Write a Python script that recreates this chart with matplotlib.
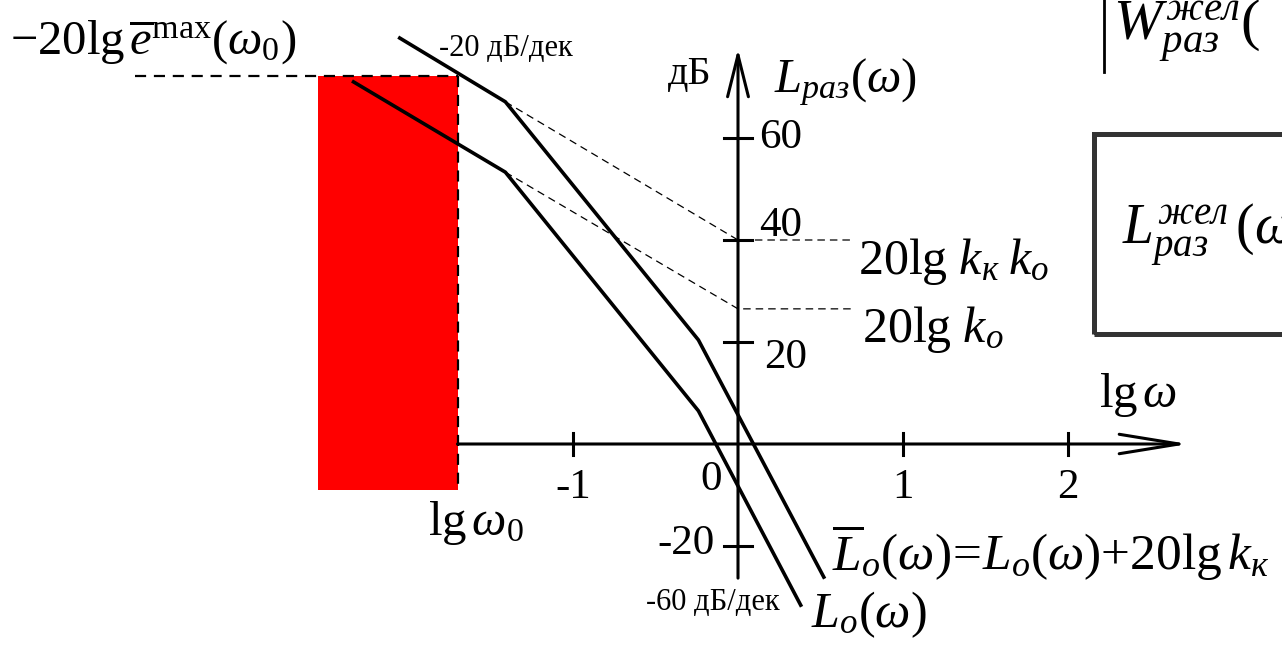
import matplotlib
matplotlib.use('Agg')
import matplotlib.pyplot as plt
from matplotlib.patches import Rectangle

plt.rcParams['font.family'] = ['Liberation Serif', 'DejaVu Serif']
plt.rcParams['mathtext.fontset'] = 'custom'
plt.rcParams['mathtext.rm'] = 'Liberation Serif'
plt.rcParams['mathtext.it'] = 'Liberation Serif:italic'
plt.rcParams['mathtext.bf'] = 'Liberation Serif:bold'

# Asymptotic LAFC vertices (lg w, dB)
lgw_bar = [-2.05, -1.41, -0.24, 0.52]     # L_o(w) + 20lg k_k
L_bar = [79.6, 67.1, 20.4, -26.1]
lgw_o = [-2.33, -1.41, -0.24, 0.38]       # L_o(w)
L_o = [71.0, 53.3, 6.5, -31.6]

# levels at lg w = 0
lvl_kk_ko = 40.0      # 20lg k_k k_o
lvl_ko = 26.5         # 20lg k_o

# forbidden zone
lg_w0 = -1.70
e_max_level = 72.2
zone_left = -2.545
zone_bottom = -9.0

xticks = [-1, 1, 2]
xtick_labels = ['-1', '1', '2']
yticks = [60, 40, 20, -20]

fig = plt.figure(figsize=(12.82, 6.46), dpi=100)
ax = fig.add_axes([0, 0, 1, 1])
ax.set_xlim(-738 / 165, (1282 - 738) / 165)
ax.set_ylim(-(646 - 444) / 5.1, 444 / 5.1)
ax.axis('off')

# forbidden zone
ax.add_patch(Rectangle((zone_left, zone_bottom), lg_w0 - zone_left,
                       e_max_level - zone_bottom, color='#ff0000', lw=0, zorder=1))
ax.plot([-3.655, lg_w0], [e_max_level, e_max_level], color='black', lw=1.6,
        dashes=(5, 3.5), zorder=2)
ax.plot([lg_w0, lg_w0], [e_max_level, zone_bottom], color='black', lw=1.6,
        dashes=(5, 3.5), zorder=2)

# axes with arrows
ax.annotate('', xy=(2.73, 0), xytext=(lg_w0, 0),
            arrowprops=dict(arrowstyle='->,head_length=4.3,head_width=0.7',
                            lw=2.2, color='black', mutation_scale=10,
                            shrinkA=0, shrinkB=0))
ax.annotate('', xy=(0, 77.5), xytext=(0, -26.3),
            arrowprops=dict(arrowstyle='->,head_length=3.0,head_width=0.75',
                            lw=2.2, color='black', mutation_scale=10,
                            shrinkA=0, shrinkB=0))
for t in xticks:
    ax.plot([t, t], [-2.1, 2.1], color='black', lw=2.2)
for t in yticks:
    ax.plot([-0.085, 0.085], [t, t], color='black', lw=2.2)

# asymptote extensions of the -20 dB/dec sections
ax.plot([lgw_bar[1], 0, 0.70], [L_bar[1], lvl_kk_ko, lvl_kk_ko], color='black',
        lw=0.9, dashes=(6, 4))
ax.plot([lgw_o[1], 0, 0.70], [L_o[1], lvl_ko, lvl_ko], color='black',
        lw=0.9, dashes=(6, 4))

# characteristics
ax.plot(lgw_bar, L_bar, color='black', lw=2.6, zorder=3)
ax.plot(lgw_o, L_o, color='black', lw=2.6, zorder=3)

fs_tick = 31
fs_lab = 35
fs_small = 22
ax.text(0.13, 60, '60', fontsize=fs_tick, va='center', ha='left')
ax.text(0.13, 42.7, '40', fontsize=fs_tick, va='center', ha='left')
ax.text(0.16, 17, '20', fontsize=fs_tick, va='center', ha='left')
ax.text(-0.14, -19.6, '-20', fontsize=fs_tick, va='center', ha='right')
for t, s in zip(xticks, xtick_labels):
    ax.text(t, -8.6, s, fontsize=fs_tick, va='center', ha='center')
ax.text(-0.165, -7, '0', fontsize=fs_tick, va='center', ha='center')

ax.text(-0.16, 72.4, 'дБ', fontsize=29, va='center', ha='right')
ax.text(0.22, 71, r'$L_{раз}(\omega)$', fontsize=fs_lab, va='center', ha='left')
ax.text(2.19, 9.6, r'$\mathrm{lg}\,\omega$', fontsize=fs_lab, va='center', ha='left')
ax.text(0.73, 35.7, r'$\mathrm{20lg}\ k_{к}\;k_{o}$', fontsize=36, va='center', ha='left')
ax.text(0.75, 22.4, r'$\mathrm{20lg}\ k_{o}$', fontsize=36, va='center', ha='left')
ax.text(0.57, -21.4, r'$\overline{L}_{o}(\omega)\!=\!L_{o}(\omega)\mathrm{+20lg}\,k_{к}$',
        fontsize=37, va='center', ha='left')
ax.text(0.44, -33.5, r'$L_{o}(\omega)$', fontsize=36, va='center', ha='left')
ax.text(-1.88, -15.5, r'$\mathrm{lg}\,\omega_{0}$', fontsize=fs_lab, va='center', ha='left')
ax.text(-4.41, 79, r'$\mathrm{-20lg}\,\overline{e}^{\mathrm{max}}(\omega_{0})$',
        fontsize=fs_lab, va='center', ha='left')
ax.text(-1.81, 77.6, '-20 дБ/дек', fontsize=fs_small, va='center', ha='left')
ax.text(-0.56, -31, '-60 дБ/дек', fontsize=fs_small, va='center', ha='left')

# desired LAFC formula, running past the right edge
ax.plot([2.22, 2.22], [87, 73], color='black', lw=2.0, clip_on=False)
ax.text(2.27, 81, r'$W_{раз}^{жел}($', fontsize=42, va='center', ha='left')
ax.add_patch(Rectangle((2.16, 21.5), 2.0, 39.3, fill=False, edgecolor='#333333',
                       lw=3.6, zorder=2))
ax.text(2.33, 41, r'$L_{раз}^{жел}\,(\omega)$', fontsize=40, va='center', ha='left')

fig.savefig('out.png', dpi=100)
